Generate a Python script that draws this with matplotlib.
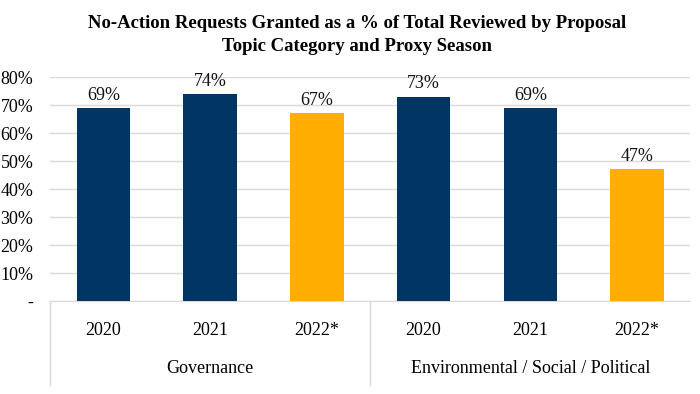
import matplotlib
matplotlib.use('Agg')
import matplotlib.pyplot as plt
from matplotlib.ticker import FuncFormatter

years = ["2020", "2021", "2022*", "2020", "2021", "2022*"]
groups = ["Governance", "Environmental / Social / Political"]
values = [0.69, 0.74, 0.67, 0.73, 0.69, 0.47]
is_2022 = [False, False, True, False, False, True]

NAVY = "#003462"
GOLD = "#FFAE00"
GRID = "#d9d9d9"
SERIF = ["Liberation Serif", "DejaVu Serif"]

plt.rcParams['font.family'] = SERIF

fig = plt.figure(figsize=(7, 3.94), dpi=100)
ax = fig.add_axes([0.0714, 0.236, 0.915, 0.5685])

x = list(range(len(values)))
colors = [GOLD if f else NAVY for f in is_2022]
ax.bar(x, values, width=0.5, color=colors, zorder=3)

for xi, v in zip(x, values):
    ax.annotate(f"{v*100:.0f}%", (xi, v), xytext=(0, 3), textcoords="offset points",
                ha="center", va="bottom", fontsize=13, color="#111111")

ax.set_xlim(-0.5, len(values) - 0.5)
ax.set_ylim(0, 0.8)
ax.set_yticks([i / 10 for i in range(9)])
ax.yaxis.set_major_formatter(FuncFormatter(lambda v, p: "-" if v == 0 else f"{v*100:.0f}%"))
ax.grid(axis="y", color=GRID, lw=1, zorder=0)
ax.tick_params(axis="y", length=0, pad=12, labelsize=13)

ax.set_xticks(x)
ax.set_xticklabels(years, fontsize=13)
ax.tick_params(axis="x", length=0, pad=15)

for s in ["top", "right", "left"]:
    ax.spines[s].set_visible(False)
ax.spines["bottom"].set_color(GRID)

# second level of category axis
trans = ax.get_xaxis_transform()
for xs in [-0.5, 2.5]:
    ax.plot([xs, xs], [0, -0.375], transform=trans, color=GRID, lw=1, clip_on=False)
ax.text(1, -0.30, groups[0], transform=trans, ha="center", va="center", fontsize=13)
ax.text(4, -0.30, groups[1], transform=trans, ha="center", va="center", fontsize=13)

fig.text(0.51, 0.912, "No-Action Requests Granted as a % of Total Reviewed by Proposal\n"
         "Topic Category and Proxy Season", ha="center", va="center",
         fontsize=13.5, fontweight="bold", linespacing=1.45)

fig.savefig("out.png", dpi=100, facecolor="white")
